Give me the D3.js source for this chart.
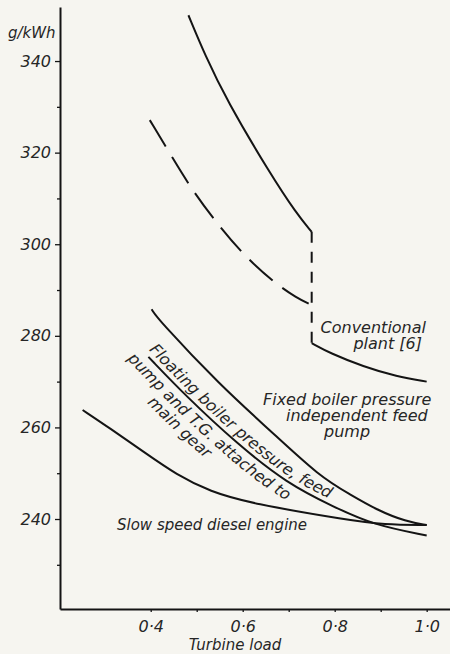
<!DOCTYPE html>
<html>
<head>
<meta charset="utf-8">
<script src="https://cdn.jsdelivr.net/npm/d3@7"></script>
<style>
  html, body { margin: 0; padding: 0; background: #f6f5f0; }
  svg { display: block; }
  text { font-family: "DejaVu Sans", sans-serif; font-style: italic; font-weight: 300; fill: #262626; }
</style>
</head>
<body>
<svg id="chart" width="450" height="654"></svg>
<script>
// Specific fuel consumption (g/kWh) against turbine load (fraction of full load)

// Conventional plant [6]: upper branch, step at 0.75 load, lower branch
const conventionalUpperLoad = [0.482, 0.518, 0.565, 0.659, 0.717, 0.75];
const conventionalUpperSfc  = [350.0, 341.3, 331.5, 315.5, 306.7, 302.7];
const conventionalLowerLoad = [0.75, 0.79, 0.862, 0.935, 1.0];
const conventionalLowerSfc  = [278.4, 276.2, 273.3, 271.1, 270.0];
// Conventional plant, dashed part-load curve
const conventionalDashLoad = [0.398, 0.449, 0.489, 0.545, 0.605, 0.670, 0.717, 0.75];
const conventionalDashSfc  = [327.1, 318.6, 312.0, 304.4, 297.3, 291.5, 288.3, 286.7];
// Fixed boiler pressure, independent feed pump
const fixedLoad = [0.402, 0.416, 0.551, 0.659, 0.768, 0.833, 0.891, 0.956, 1.0];
const fixedSfc  = [285.8, 283.6, 269.2, 259.4, 249.2, 245.4, 242.0, 239.4, 238.7];
// Floating boiler pressure, feed pump and T.G. attached to main gear
const floatingLoad = [0.395, 0.478, 0.587, 0.696, 0.797, 0.884, 1.0];
const floatingSfc  = [275.4, 266.7, 256.5, 247.8, 242.7, 238.7, 236.4];
// Slow speed diesel engine
const dieselLoad = [0.252, 0.3115, 0.384, 0.457, 0.529, 0.617, 0.833, 0.906, 1.0];
const dieselSfc  = [263.8, 259.8, 254.7, 249.6, 246.0, 243.4, 239.7, 238.8, 238.7];

// Axis ticks
const yMajorTicks = [240, 260, 280, 300, 320, 340];
const yMinorTicks = [230, 250, 270, 290, 310, 330];
const xTicks = [0.4, 0.5, 0.6, 0.7, 0.8, 0.9, 1.0];
const xLabelTicks = [0.4, 0.6, 0.8, 1.0];

const svg = d3.select("#chart");
const ink = "#141414";

const x = d3.scaleLinear().domain([0.2028, 1.0507]).range([60, 450]);
const y = d3.scaleLinear().domain([220.35, 351.8]).range([609, 7]);

const zip = (xs, ys) => xs.map((v, i) => [v, ys[i]]);
const line = d3.line().x(d => x(d[0])).y(d => y(d[1])).curve(d3.curveBasis);

const dec = v => d3.format(".1f")(v).replace(".", "\u00b7");

// ---- axes ----
const yAxis = svg.append("g").attr("transform", "translate(60,0)")
  .call(d3.axisLeft(y).tickValues(yMajorTicks).tickSize(5).tickSizeOuter(0).tickPadding(4).tickFormat(d3.format("d")));
yAxis.select(".domain").attr("stroke", ink).attr("stroke-width", 2);
yAxis.selectAll(".tick line").attr("stroke", ink).attr("stroke-width", 1.3);
yAxis.selectAll(".tick text").attr("font-size", 16).attr("fill", "#2a2a2a")
  .style("font-family", '"DejaVu Sans", sans-serif');

const yMinor = svg.append("g").attr("transform", "translate(60,0)")
  .call(d3.axisLeft(y).tickValues(yMinorTicks).tickSize(3).tickSizeOuter(0).tickFormat(""));
yMinor.select(".domain").remove();
yMinor.selectAll(".tick line").attr("stroke", ink).attr("stroke-width", 1.3);

const xAxis = svg.append("g").attr("transform", "translate(0,609)")
  .call(d3.axisBottom(x).tickValues(xTicks).tickSize(3).tickSizeOuter(0)
    .tickFormat(d => xLabelTicks.some(t => Math.abs(t - d) < 1e-9) ? dec(d) : ""));
xAxis.select(".domain").attr("stroke", ink).attr("stroke-width", 2);
xAxis.selectAll(".tick line").attr("stroke", ink).attr("stroke-width", 1.3);
xAxis.selectAll(".tick text").attr("font-size", 16).attr("fill", "#2a2a2a")
  .attr("y", 23).attr("dy", 0)
  .style("font-family", '"DejaVu Sans", sans-serif');

svg.append("text").attr("x", 8).attr("y", 38).attr("font-size", 15).text("g/kWh");
svg.append("text").attr("x", 235).attr("y", 650).attr("text-anchor", "middle")
  .attr("font-size", 15).text("Turbine load");

// ---- curves ----
const curves = svg.append("g").attr("fill", "none").attr("stroke", ink)
  .attr("stroke-width", 2).attr("stroke-linecap", "butt");

curves.append("path").attr("d", line(zip(conventionalUpperLoad, conventionalUpperSfc)));
curves.append("path").attr("d", line(zip(conventionalLowerLoad, conventionalLowerSfc)));
curves.append("path").attr("d", line(zip(conventionalDashLoad, conventionalDashSfc)))
  .attr("stroke-dasharray", "31,12");
// step of the conventional plant at 0.75 load
const stepLoad = conventionalUpperLoad[conventionalUpperLoad.length - 1];
curves.append("line")
  .attr("x1", x(stepLoad)).attr("x2", x(stepLoad))
  .attr("y1", y(conventionalUpperSfc[conventionalUpperSfc.length - 1]))
  .attr("y2", y(conventionalLowerSfc[0]))
  .attr("stroke-dasharray", "11,9");
curves.append("path").attr("d", line(zip(fixedLoad, fixedSfc)));
const floatingPath = curves.append("path").attr("d", line(zip(floatingLoad, floatingSfc)));
curves.append("path").attr("d", line(zip(dieselLoad, dieselSfc)));

// ---- labels ----
svg.append("text").attr("x", 426).attr("y", 333).attr("text-anchor", "end")
  .attr("font-size", 16).text("Conventional");
svg.append("text").attr("x", 422).attr("y", 349).attr("text-anchor", "end")
  .attr("font-size", 16).text("plant [6]");

svg.append("text").attr("x", 263).attr("y", 405).attr("font-size", 16).text("Fixed boiler pressure");
svg.append("text").attr("x", 286).attr("y", 421).attr("font-size", 16).text("independent feed");
svg.append("text").attr("x", 324).attr("y", 437).attr("font-size", 16).text("pump");

svg.append("text").attr("x", 117).attr("y", 530).attr("font-size", 15).text("Slow speed diesel engine");

// text running along the floating-pressure curve, offset to either side of it
function offsetCurve(node, dist, extend) {
  const L = node.getTotalLength();
  const pts = [];
  for (let s = 0; s <= L; s += 3) {
    const p = node.getPointAtLength(s);
    const a = node.getPointAtLength(Math.max(0, s - 2));
    const b = node.getPointAtLength(Math.min(L, s + 2));
    let tx = b.x - a.x, ty = b.y - a.y;
    const n = Math.hypot(tx, ty) || 1;
    tx /= n; ty /= n;
    pts.push({ x: p.x + ty * dist, y: p.y - tx * dist, tx, ty });
  }
  const f = pts[0];
  pts.unshift({ x: f.x - f.tx * extend, y: f.y - f.ty * extend });
  return d3.line().x(d => d.x).y(d => d.y).curve(d3.curveBasis)(pts);
}

const defs = svg.append("defs");
const EXT = 40;
const LABEL_SIZE = 16;
const curveLabels = [
  { id: "lab-floating", dist: 5,   start: EXT - 5,    text: "Floating boiler pressure, feed" },
  { id: "lab-pump",     dist: -17, start: EXT - 13.5, text: "pump and T.G. attached to" },
  { id: "lab-gear",     dist: -33, start: EXT + 32,   text: "main gear" }
];

// width of a space and of each word, for laying the words one after another
const measure = svg.append("text").attr("font-size", LABEL_SIZE).attr("visibility", "hidden");
const textWidth = s => { measure.text(s); return measure.node().getComputedTextLength(); };
const spaceWidth = textWidth("a a") - textWidth("aa");

curveLabels.forEach(l => {
  defs.append("path").attr("id", l.id).attr("d", offsetCurve(floatingPath.node(), l.dist, EXT));
  let offset = l.start;
  l.text.split(" ").forEach(word => {
    svg.append("text").attr("font-size", LABEL_SIZE)
      .append("textPath").attr("href", "#" + l.id).attr("startOffset", offset).text(word);
    offset += textWidth(word) + spaceWidth;
  });
});
measure.remove();
</script>
</body>
</html>
